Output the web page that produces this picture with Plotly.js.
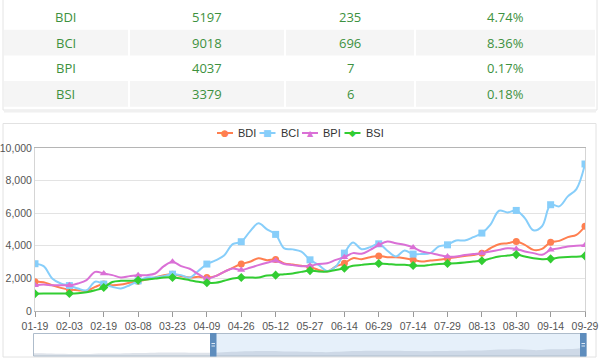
<!DOCTYPE html>
<html>
<head>
<meta charset="utf-8">
<script src="https://cdn.plot.ly/plotly-3.0.1.min.js"></script>
<style>
html,body{margin:0;padding:0;background:#fff;}
#chart{width:600px;height:359px;}
</style>
</head>
<body>
<div id="chart"></div>
<script>
// ---------- data ----------
const tableNames = ['BDI', 'BCI', 'BPI', 'BSI'];
const tableValues = ['5197', '9018', '4037', '3379'];
const tableChange = ['235', '696', '7', '6'];
const tablePct = ['4.74%', '8.36%', '0.17%', '0.18%'];

const dates = ['01-19','01-22','01-26','01-29','02-03','02-08','02-11','02-16','02-19','02-24','02-26','03-03',
  '03-08','03-11','03-15','03-18','03-23','03-26','03-31','04-06','04-09','04-14','04-19','04-22',
  '04-26','04-29','05-04','05-07','05-12','05-17','05-19','05-24','05-27','06-02','06-07','06-10',
  '06-14','06-17','06-22','06-25','06-29','07-02','07-07','07-09','07-14','07-19','07-21','07-26',
  '07-29','08-03','08-05','08-10','08-13','08-18','08-23','08-26','08-30','09-03','09-07','09-10',
  '09-14','09-17','09-22','09-24','09-29'];
const tickDates = ['01-19','02-03','02-19','03-08','03-23','04-09','04-26','05-12','05-27','06-14',
  '06-29','07-14','07-29','08-13','08-30','09-14','09-29'];

const bdi = [1790,1770,1580,1420,1315,1275,1230,1480,1650,1580,1620,1730,1830,1930,2055,2200,2260,2150,
  2055,2100,2050,2140,2400,2650,2880,3020,3230,3120,3165,2920,2850,2780,2690,2520,2420,2730,2930,3240,
  3180,3300,3380,3300,3300,3240,3140,3030,3100,3140,3220,3300,3380,3440,3550,3850,4100,4160,4260,4060,
  3750,3810,4220,4300,4530,4670,5197];
const bci = [2900,2750,2000,1690,1560,1380,1270,1800,1650,1480,1380,1580,1850,2055,2055,2140,2260,2200,
  2050,2450,2880,3100,3400,4100,4250,4870,5380,5010,4700,3840,3780,3640,3140,2830,2460,2730,3550,4200,
  3790,3920,4120,3700,3350,3710,3490,3500,3550,3960,4060,4330,4330,4530,4780,5300,6150,6050,6170,5700,
  4950,5200,6520,6420,7030,7480,9018];
const bpi = [1580,1620,1580,1580,1580,1690,1890,2400,2300,2200,2055,2140,2200,2200,2300,2750,3020,2750,
  2590,2260,1990,2140,2400,2610,2510,2650,2815,2960,3080,2880,2815,2750,2770,2890,2930,3140,3300,3550,
  3510,3750,4050,4260,4160,4060,3900,3650,3550,3440,3340,3340,3440,3500,3550,3650,3750,3850,3810,3650,
  3550,3450,3750,3850,3960,4000,4037];
const bsi = [1060,1070,1070,1070,1070,1090,1150,1270,1440,1780,1850,1850,1890,1930,1990,2055,2055,1990,
  1890,1790,1730,1730,1850,1990,2055,2055,2055,2180,2200,2260,2300,2400,2480,2420,2420,2520,2620,2770,
  2830,2890,2910,2890,2840,2830,2790,2770,2830,2890,2910,2930,2970,3030,3080,3220,3340,3400,3460,3340,
  3230,3180,3200,3280,3320,3330,3379];

const seriesNames = ['BDI', 'BCI', 'BPI', 'BSI'];
const seriesData = [bdi, bci, bpi, bsi];
const seriesColors = ['#ff7f50', '#87cefa', '#da70d6', '#32cd32'];
const seriesSymbols = ['circle', 'square', 'triangle-up', 'diamond'];
const legendGlyphs = ['●', '■', '▲', '◆'];

// ---------- helpers (pixel -> paper) ----------
const W = 600, H = 359;
const px = x => x / W;
const py = y => 1 - y / H;

// ---------- traces ----------
const traces = [];
// data zoom shadow
traces.push({
  type: 'scatter', mode: 'lines', x: dates, y: bdi, xaxis: 'x2', yaxis: 'y2',
  line: {width: 0, shape: 'spline'}, fill: 'tozeroy', fillcolor: 'rgba(160,175,195,0.35)',
  hoverinfo: 'skip', showlegend: false
});
seriesNames.forEach((name, i) => {
  const isTick = dates.map(d => tickDates.indexOf(d) >= 0);
  traces.push({
    type: 'scatter', mode: 'lines+markers', name: name, x: dates, y: seriesData[i],
    line: {color: seriesColors[i], width: 2, shape: 'spline', smoothing: 1},
    marker: {
      symbol: seriesSymbols[i], size: 7,
      color: isTick.map(t => t ? seriesColors[i] : 'rgba(0,0,0,0)'),
      line: {width: 0}
    },
    showlegend: false
  });
});

// ---------- shapes & annotations ----------
const shapes = [];
const annotations = [];

// table card
shapes.push({type: 'rect', xref: 'paper', yref: 'paper', x0: px(3), x1: px(597), y0: py(110), y1: py(-5),
  line: {color: '#e4e4e4', width: 1}, fillcolor: '#ffffff', layer: 'below'});
shapes.push({type: 'line', xref: 'paper', yref: 'paper', x0: px(4), x1: px(596), y0: py(111.5), y1: py(111.5),
  line: {color: '#f0f0f0', width: 2}, layer: 'below'});
const colEdges = [4, 129, 285, 415, 595];
const rowTop = 4, rowH = 25.7;
tableNames.forEach((n, r) => {
  const y0 = rowTop + r * rowH, y1 = y0 + rowH;
  if (r % 2 === 1) {
    for (let c = 0; c < 4; c++) {
      shapes.push({type: 'rect', xref: 'paper', yref: 'paper',
        x0: px(colEdges[c] + (c ? 1 : 0)), x1: px(colEdges[c + 1] - (c < 3 ? 1 : 0)),
        y0: py(y1), y1: py(y0), line: {width: 0}, fillcolor: '#f5f5f5', layer: 'below'});
    }
  }
  const cells = [tableNames[r], tableValues[r], tableChange[r], tablePct[r]];
  cells.forEach((t, c) => {
    annotations.push({xref: 'paper', yref: 'paper', x: px((colEdges[c] + colEdges[c + 1]) / 2) + (c === 0 ? -0.001 : 0),
      y: py((y0 + y1) / 2), text: t, showarrow: false, xanchor: 'center', yanchor: 'middle',
      font: {family: 'Open Sans, Noto Sans, sans-serif', size: 13, color: '#3d9140'}});
  });
});

// chart card
shapes.push({type: 'rect', xref: 'paper', yref: 'paper', x0: px(3), x1: px(596), y0: py(357), y1: py(123.5),
  line: {color: '#e2e2e2', width: 1}, fillcolor: 'rgba(0,0,0,0)', layer: 'below'});

// data zoom
shapes.push({type: 'rect', xref: 'paper', yref: 'paper', x0: px(216), x1: px(582), y0: py(356), y1: py(333.5),
  line: {width: 0}, fillcolor: 'rgba(200,222,245,0.45)', layer: 'below'});
shapes.push({type: 'rect', xref: 'paper', yref: 'paper', x0: px(33.5), x1: px(586), y0: py(356), y1: py(333.5),
  line: {color: '#aebccb', width: 1}, fillcolor: 'rgba(0,0,0,0)'});
[210, 580].forEach(hx => {
  shapes.push({type: 'rect', xref: 'paper', yref: 'paper', x0: px(hx), x1: px(hx + 6.5), y0: py(356.5), y1: py(333),
    line: {width: 0}, fillcolor: '#5e8dbd'});
  [343.5, 346].forEach(ly => {
    shapes.push({type: 'line', xref: 'paper', yref: 'paper', x0: px(hx + 1.5), x1: px(hx + 5), y0: py(ly), y1: py(ly),
      line: {color: '#dbe7f3', width: 1}});
  });
});

// custom legend
const legStart = 217, legStep = 42.5, legY = 133;
seriesNames.forEach((n, i) => {
  const sx = legStart + i * legStep;
  shapes.push({type: 'line', xref: 'paper', yref: 'paper', x0: px(sx), x1: px(sx + 16), y0: py(legY), y1: py(legY),
    line: {color: seriesColors[i], width: 2}});
  annotations.push({xref: 'paper', yref: 'paper', x: px(sx + 8), y: py(legY + 0.5), text: legendGlyphs[i],
    showarrow: false, xanchor: 'center', yanchor: 'middle',
    font: {family: 'DejaVu Sans, sans-serif', size: i === 2 ? 8 : 9, color: seriesColors[i]}});
  annotations.push({xref: 'paper', yref: 'paper', x: px(sx + 19), y: py(legY), text: n,
    showarrow: false, xanchor: 'left', yanchor: 'middle',
    font: {family: 'Liberation Sans, Arial, sans-serif', size: 11, color: '#333'}});
});

// ---------- layout ----------
const layout = {
  width: W, height: H,
  margin: {l: 0, r: 0, t: 0, b: 0},
  paper_bgcolor: '#ffffff', plot_bgcolor: 'rgba(0,0,0,0)',
  showlegend: false,
  xaxis: {
    domain: [px(35), px(585)], type: 'category', range: [0, dates.length - 1],
    tickvals: tickDates, ticktext: tickDates,
    showgrid: false, showline: true, linecolor: '#b5b5b5', linewidth: 1, mirror: true,
    ticks: 'outside', ticklen: 5, tickcolor: '#999', tickwidth: 1,
    tickfont: {family: 'Liberation Sans, Arial, sans-serif', size: 10.5, color: '#555'},
    fixedrange: true, zeroline: false
  },
  yaxis: {
    domain: [py(311), py(148)], range: [0, 10000], dtick: 2000, tickformat: ',d',
    showgrid: true, gridcolor: '#e3e3e3', gridwidth: 1,
    showline: true, linecolor: '#d5d5d5', mirror: true, zeroline: false,
    ticks: '', tickfont: {family: 'Liberation Sans, Arial, sans-serif', size: 10.5, color: '#555'},
    fixedrange: true
  },
  xaxis2: {domain: [px(34), px(585)], anchor: 'y2', type: 'category', range: [0, dates.length - 1],
    visible: false, fixedrange: true},
  yaxis2: {domain: [py(356), py(334)], anchor: 'x2', range: [0, 14000], visible: false, fixedrange: true},
  shapes: shapes,
  annotations: annotations
};

Plotly.newPlot('chart', traces, layout, {displayModeBar: false, staticPlot: true});
</script>
</body>
</html>
